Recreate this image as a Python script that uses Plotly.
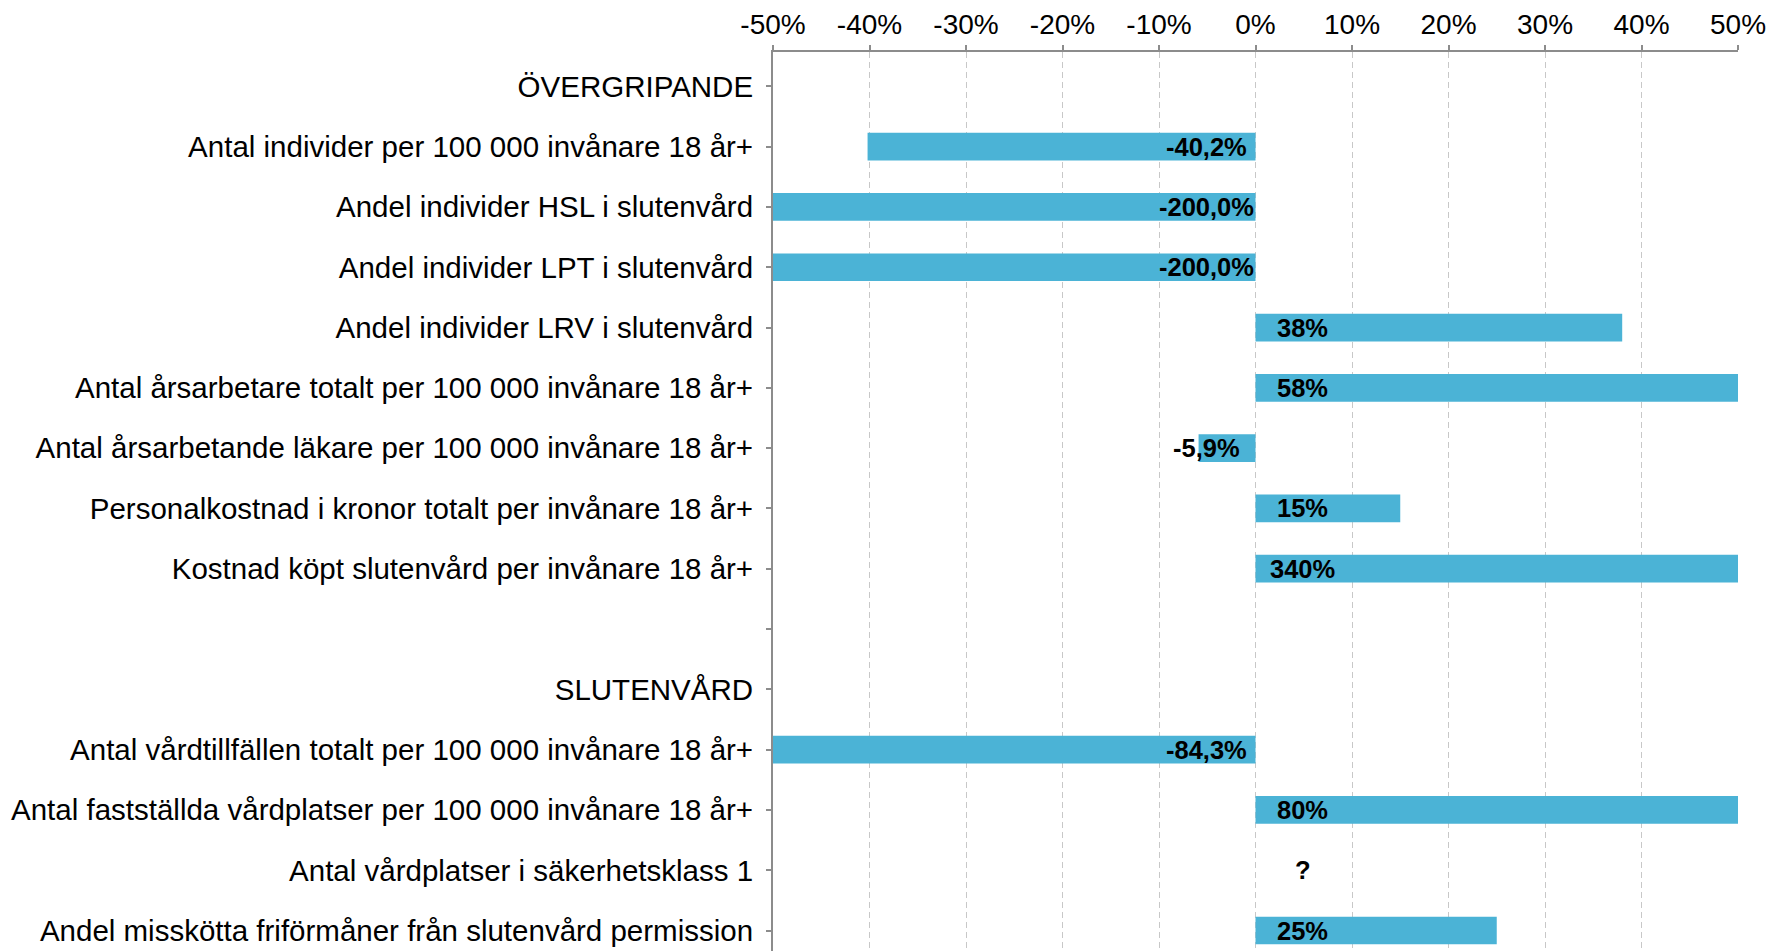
import plotly.graph_objects as go

categories = [
    "ÖVERGRIPANDE",
    "Antal individer per 100 000 invånare 18 år+",
    "Andel individer HSL i slutenvård",
    "Andel individer LPT i slutenvård",
    "Andel individer LRV i slutenvård",
    "Antal årsarbetare totalt per 100 000 invånare 18 år+",
    "Antal årsarbetande läkare per 100 000 invånare 18 år+",
    "Personalkostnad i kronor totalt per invånare 18 år+",
    "Kostnad köpt slutenvård per invånare 18 år+",
    " ",
    "SLUTENVÅRD",
    "Antal vårdtillfällen totalt per 100 000 invånare 18 år+",
    "Antal fastställda vårdplatser per 100 000 invånare 18 år+",
    "Antal vårdplatser i säkerhetsklass 1",
    "Andel misskötta friförmåner från slutenvård permission",
]
values = [None, -40.2, -200.0, -200.0, 38, 58, -5.9, 15, 340, None, None, -84.3, 80, None, 25]
value_labels = ["", "-40,2%", "-200,0%", "-200,0%", "38%", "58%", "-5,9%", "15%", "340%",
                "", "", "-84,3%", "80%", "?", "25%"]
tick_values = [-50, -40, -30, -20, -10, 0, 10, 20, 30, 40, 50]
tick_labels = [f"{v}%" for v in tick_values]

FONT = "Arial, Liberation Sans, sans-serif"
BAR = "#4bb3d6"
AXIS = "#8c8c8c"

fig = go.Figure()
fig.add_trace(go.Bar(
    y=categories, x=values, orientation="h",
    marker=dict(color=BAR, line=dict(width=0)),
    width=0.46, hoverinfo="skip", showlegend=False,
))

for cat, val, lab in zip(categories, values, value_labels):
    if not lab:
        continue
    neg = val is not None and val < 0
    fig.add_annotation(
        x=0, y=cat, xref="x", yref="y", text=lab, showarrow=False,
        xanchor="center", yanchor="middle", xshift=-49 if neg else 47,
        font=dict(family=FONT, size=25.5, color="#000000", weight="bold"),
    )

fig.update_layout(
    width=1769, height=951,
    margin=dict(l=773, r=31, t=52, b=0, pad=0),
    paper_bgcolor="white", plot_bgcolor="white",
    font=dict(family=FONT, color="#000000"),
)
fig.update_xaxes(
    side="top", range=[-50, 50], tickmode="array",
    tickvals=tick_values, ticktext=tick_labels,
    tickfont=dict(family=FONT, size=28, color="#000000"),
    showline=True, linecolor=AXIS, linewidth=2,
    ticks="outside", ticklen=5, tickcolor=AXIS, tickwidth=2,
    showgrid=True, gridcolor="#c8c8c8", gridwidth=1, griddash="6px,4px",
    zeroline=False, ticklabelstandoff=0,
)
fig.update_yaxes(
    type="category", categoryorder="array", categoryarray=categories,
    range=[14.34, -0.57],
    tickfont=dict(family=FONT, size=29.5, color="#000000"),
    showline=True, linecolor=AXIS, linewidth=2,
    ticks="outside", ticklen=5, tickcolor=AXIS, tickwidth=2,
    showgrid=False, zeroline=False, ticklabelstandoff=7,
)

fig.write_html(
    "out.html",
    config={"displayModeBar": False},
    post_script="document.body.style.margin='0';document.body.style.overflow='hidden';",
)
